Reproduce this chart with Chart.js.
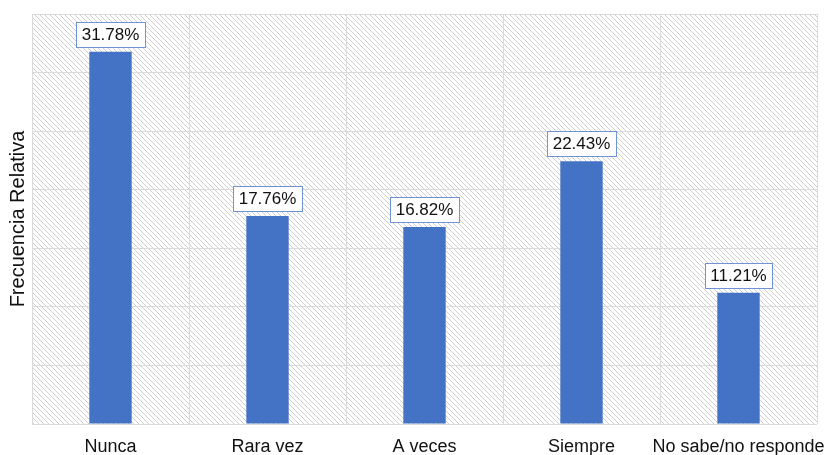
<!DOCTYPE html>
<html>
<head>
<meta charset="utf-8">
<script src="https://cdn.jsdelivr.net/npm/chart.js@4.4.1/dist/chart.umd.min.js"></script>
<style>
  html, body { margin: 0; padding: 0; background: #fff; overflow: hidden; }
  #wrap { width: 845px; height: 455px; }
</style>
</head>
<body>
<div id="wrap"><canvas id="chart"></canvas></div>
<script>
const categorias = ['Nunca', 'Rara vez', 'A veces', 'Siempre', 'No sabe/no responde'];
const frecuencias = [31.78, 17.76, 16.82, 22.43, 11.21];
const yMin = 0;
const yMax = 35;
const yPaso = 5;

const FONT = '"Liberation Sans", Arial, Helvetica, sans-serif';

// fondo rayado del área del gráfico
function crearRayado() {
    const c = document.createElement('canvas');
    const s = 5;
    c.width = s; c.height = s;
    const g = c.getContext('2d');
    g.fillStyle = '#ffffff';
    g.fillRect(0, 0, s, s);
    g.strokeStyle = '#cfcfcf';
    g.lineWidth = 1;
    g.beginPath();
    g.moveTo(-1, -1); g.lineTo(s + 1, s + 1);
    g.moveTo(-1, s - 1); g.lineTo(1, s + 1);
    g.moveTo(s - 1, -1); g.lineTo(s + 1, 1);
    g.stroke();
    return c;
}

const fondoRayado = {
    id: 'fondoRayado',
    beforeDraw(chart) {
        const { ctx, chartArea: a } = chart;
        ctx.save();
        ctx.fillStyle = ctx.createPattern(crearRayado(), 'repeat');
        ctx.fillRect(a.left, a.top, a.right - a.left, a.bottom - a.top);
        ctx.restore();
    }
};

// etiquetas con recuadro sobre cada barra
const etiquetas = {
    id: 'etiquetas',
    afterDatasetsDraw(chart) {
        const { ctx } = chart;
        const meta = chart.getDatasetMeta(0);
        ctx.save();
        ctx.font = '17px ' + FONT;
        ctx.textAlign = 'center';
        ctx.textBaseline = 'middle';
        meta.data.forEach((bar, i) => {
            const txt = frecuencias[i].toFixed(2) + '%';
            const w = Math.round(ctx.measureText(txt).width + 11);
            const h = 25;
            const x = bar.x;
            const yb = bar.y - 5;
            const bx = Math.round(x - w / 2) + 0.5;
            const by = Math.round(yb - h) + 0.5;
            ctx.fillStyle = '#ffffff';
            ctx.fillRect(bx, by, w, h);
            ctx.strokeStyle = '#6f93d3';
            ctx.lineWidth = 1;
            ctx.strokeRect(bx, by, w, h);
            ctx.fillStyle = '#111111';
            ctx.fillText(txt, x, yb - h / 2 + 1);
        });
        ctx.restore();
    }
};

new Chart(document.getElementById('chart'), {
    type: 'bar',
    data: {
        labels: categorias,
        datasets: [{
            data: frecuencias,
            backgroundColor: '#4472c4',
            borderWidth: 0,
            categoryPercentage: 1,
            barPercentage: 0.27
        }]
    },
    options: {
        responsive: true,
        maintainAspectRatio: false,
        animation: false,
        layout: { padding: { top: 14, left: 0, right: 28, bottom: 0 } },
        plugins: {
            legend: { display: false },
            tooltip: { enabled: false }
        },
        scales: {
            x: {
                grid: { color: '#dadada', drawTicks: false, offset: true },
                border: { display: false },
                ticks: {
                    color: '#111111',
                    font: { family: FONT, size: 18 },
                    padding: 12,
                    maxRotation: 0,
                    autoSkip: false
                },
                afterFit(scale) { scale.height = 31; }
            },
            y: {
                min: yMin,
                max: yMax,
                grid: { color: '#dadada', drawTicks: false },
                border: { display: false },
                ticks: { display: false, stepSize: yPaso },
                title: {
                    display: true,
                    text: 'Frecuencia Relativa',
                    color: '#111111',
                    font: { family: FONT, size: 20 },
                    padding: { top: 6, bottom: 0 }
                },
                afterFit(scale) { scale.width = 32; }
            }
        }
    },
    plugins: [fondoRayado, etiquetas]
});
</script>
</body>
</html>
